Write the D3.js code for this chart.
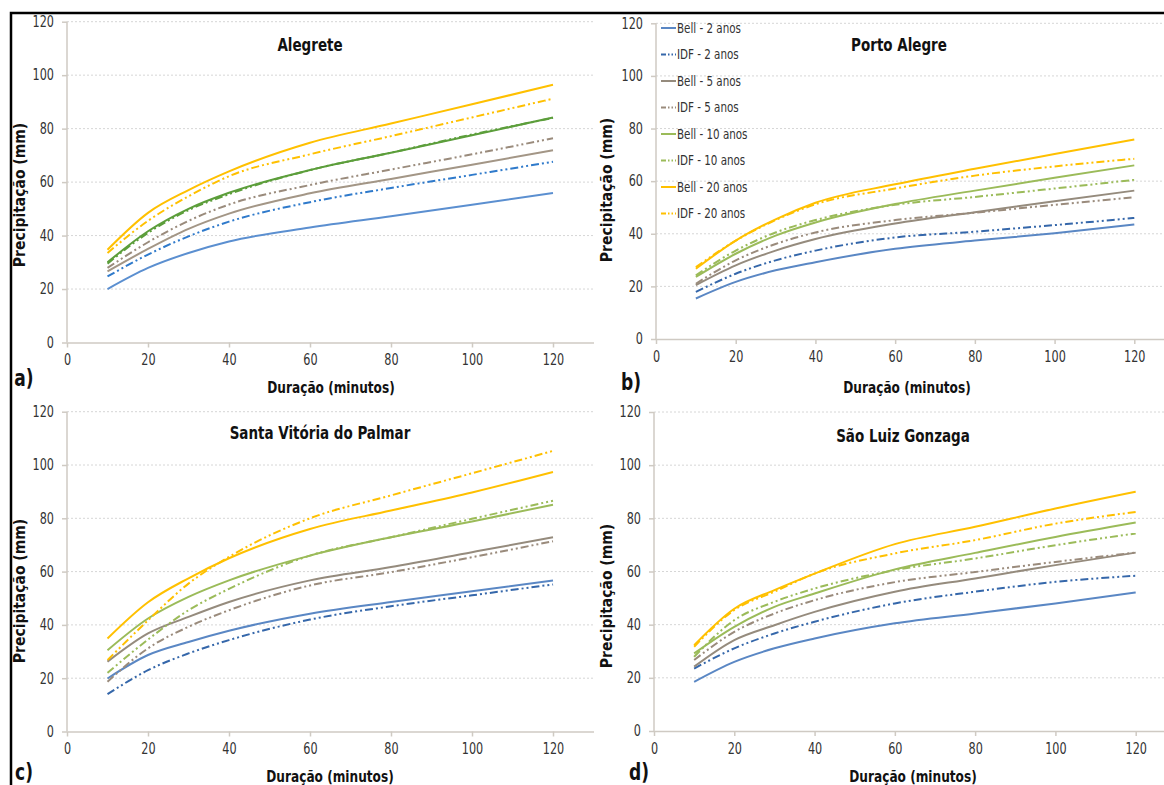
<!DOCTYPE html>
<html>
<head>
<meta charset="utf-8">
<script src="https://cdn.jsdelivr.net/npm/d3@7"></script>
<style>
  body { margin: 0; background: #fff; }
  text { font-family: "DejaVu Sans Condensed", "Liberation Sans Narrow", "Roboto", sans-serif; }
</style>
</head>
<body>
<svg id="chart" width="1164" height="785"></svg>
<script>
// data
const durations = [10, 20, 30, 40, 60, 80, 100, 120];
const seriesNames = [
  "Bell - 2 anos", "IDF - 2 anos", "Bell - 5 anos", "IDF - 5 anos",
  "Bell - 10 anos", "IDF - 10 anos", "Bell - 20 anos", "IDF - 20 anos"
];
const yTicks = [0, 20, 40, 60, 80, 100, 120];
const xTicks = [0, 20, 40, 60, 80, 100, 120];

const alegrete = [
  [20, 27.9, 33.5, 37.8, 43, 47.2, 51.5, 55.9],
  [24.7, 32.9, 39.7, 45.2, 52.5, 57.8, 62.7, 67.6],
  [26.6, 35, 42.5, 48.2, 55.8, 61.2, 66.5, 71.9],
  [27.9, 37.5, 45.5, 51.6, 58.9, 64.7, 70.4, 76.4],
  [30, 41.6, 50, 56, 64.5, 71, 77.5, 84.2],
  [29.5, 41, 49.5, 55.5, 64.5, 71, 77.8, 84],
  [34.7, 48.5, 57, 64, 74.7, 81.9, 89.1, 96.4],
  [33.5, 45.5, 54.7, 62.2, 70.4, 77.2, 84.2, 91.2]
];
const portoAlegre = [
  [15.4, 21.7, 26.1, 29.2, 34.3, 37.4, 40.2, 43.5],
  [17.9, 24.8, 29.9, 33.6, 38.6, 40.8, 43.3, 46],
  [20.5, 28, 33.6, 38, 43.9, 48.2, 52.4, 56.4],
  [21, 29.9, 36.1, 40.5, 45.2, 48, 51, 53.9],
  [23.6, 32.4, 39.3, 44.3, 51.3, 56.4, 61.3, 66],
  [24.2, 33.6, 40.5, 45.2, 51, 54, 57.2, 60.5],
  [26.7, 37.4, 45.5, 51.8, 58.8, 64.7, 70.3, 75.8],
  [27.3, 37.4, 45.2, 51.2, 57.2, 62.1, 65.6, 68.5]
];
const santaVitoria = [
  [19.9, 28.7, 33.6, 37.8, 44.2, 48.6, 52.6, 56.7],
  [14, 23, 29.3, 34.3, 42, 47, 51.1, 55.2],
  [26.2, 36.8, 43, 48.6, 56.7, 61.7, 67.3, 72.9],
  [18.7, 31.2, 39.3, 45.5, 54.8, 59.8, 65.4, 71.4],
  [30.5, 42.4, 50.5, 56.7, 66, 72.9, 78.8, 85.1],
  [22, 34.5, 45.5, 53.5, 66, 72.9, 79.8, 86.6],
  [34.9, 48.5, 57.5, 65, 76, 82.9, 89.7, 97.4],
  [26.8, 41.7, 55.5, 65.5, 80, 88.6, 96.9, 105.3]
];
const saoLuiz = [
  [18.5, 26, 31.1, 34.8, 40.5, 44.2, 48, 52.1],
  [23.5, 31.1, 36.7, 41.1, 48, 52.4, 56.1, 58.4],
  [24.2, 34.2, 39.8, 44.8, 52.4, 57.4, 62.4, 67.1],
  [26.7, 37.3, 44.2, 49.2, 56, 59.8, 63.6, 67.1],
  [29.2, 39.2, 46.7, 51.7, 60.8, 67, 73, 78.4],
  [27.9, 41.7, 48.6, 53.6, 60.5, 64.9, 69.9, 74.3],
  [32.3, 46, 53, 59.2, 70.3, 76.8, 83.7, 90],
  [31.7, 45.5, 52.4, 59.2, 66.8, 71.8, 78, 82.4]
];

// styles
const colors = ["#5a87c4", "#3567aa", "#958b7d", "#9a8b7c", "#9bbb59", "#9bbb59", "#ffc000", "#ffc000"];
const colorsA = ["#5b8fd0", "#2f7acb", "#a39686", "#9a8b7c", "#5c9e3b", "#5c9e3b", "#ffc000", "#ffc000"];
const idfDash = "8,3,2,3,2,3";
const axisColor = "#cfcac3";
const sy = 1.2; // the figure is a little stretched vertically

const panels = [
  { title: "Alegrete", label: "a)", values: alegrete, colors: colorsA,
    x0: 67, x120: 553, y0: 342.5, y120: 21.7, legend: false,
    titleX: 310, titleY: 51, xtX: 331, xtY: 393, ytX: 25, ytY: 195, labX: 14, labY: 386 },
  { title: "Porto Alegre", label: "b)", values: portoAlegre, colors: colors,
    x0: 656, x120: 1134.3, y0: 339, y120: 23.3, legend: true,
    titleX: 899, titleY: 51, xtX: 907, xtY: 393, ytX: 612, ytY: 190, labX: 621, labY: 390 },
  { title: "Santa Vitória do Palmar", label: "c)", values: santaVitoria, colors: colors,
    x0: 67, x120: 553, y0: 731.5, y120: 411.7, legend: false,
    titleX: 320, titleY: 439, xtX: 330, xtY: 782, ytX: 25, ytY: 591, labX: 14, labY: 780 },
  { title: "São Luiz Gonzaga", label: "d)", values: saoLuiz, colors: colors,
    x0: 654, x120: 1135.7, y0: 731, y120: 412, legend: false,
    titleX: 903, titleY: 442, xtX: 913, xtY: 782, ytX: 612, ytY: 596, labX: 629, labY: 780 }
];

const svg = d3.select("#chart");
svg.append("rect").attr("width", 1164).attr("height", 785).attr("fill", "#fff");

function stretchedText(g, x, y, size, str) {
  return g.append("text")
    .attr("transform", `translate(${x},${y}) scale(1,${sy})`)
    .attr("text-anchor", "middle")
    .style("font-size", `${size}px`).style("font-weight", "bold")
    .attr("fill", "#111").text(str);
}

panels.forEach((p) => {
  const xMaxPx = p.x0 + (p.x120 - p.x0) * 130 / 120;
  const x = d3.scaleLinear().domain([0, 130]).range([p.x0, xMaxPx]);
  const y = d3.scaleLinear().domain([0, 120]).range([p.y0, p.y120]);
  const g = svg.append("g");

  // gridlines
  g.selectAll(".grid")
    .data(yTicks.slice(1))
    .join("line")
    .attr("x1", p.x0).attr("x2", xMaxPx)
    .attr("y1", (d) => y(d)).attr("y2", (d) => y(d))
    .attr("stroke", "#d6d6d6").attr("stroke-width", 1)
    .attr("stroke-dasharray", "2,2");

  // axes
  const yAxisG = g.append("g")
    .attr("transform", `translate(${p.x0},0)`)
    .call(d3.axisLeft(y).tickValues(yTicks).tickSize(5).tickPadding(8));
  const xAxisG = g.append("g")
    .attr("transform", `translate(0,${p.y0})`)
    .call(d3.axisBottom(x).tickValues(xTicks).tickSize(5).tickSizeOuter(0).tickPadding(7));
  [yAxisG, xAxisG].forEach((a) => {
    a.selectAll("path, line").attr("stroke", axisColor).attr("stroke-width", 1.5);
  });
  yAxisG.select(".domain").attr("d", `M0,${p.y0}V${p.y120}`);
  yAxisG.selectAll(".tick text")
    .attr("fill", "#333").style("font-size", "12.5px")
    .attr("dy", null).attr("y", 4)
    .attr("transform", `scale(1,${sy})`);
  xAxisG.selectAll(".tick text")
    .attr("fill", "#333").style("font-size", "12.5px")
    .attr("y", 10)
    .attr("transform", `scale(1,${sy})`);

  // lines
  const line = d3.line()
    .curve(d3.curveMonotoneX)
    .x((d, i) => x(durations[i]))
    .y((d) => y(d));

  g.selectAll(".series")
    .data(p.values)
    .join("path")
    .attr("fill", "none")
    .attr("stroke", (d, i) => p.colors[i])
    .attr("stroke-width", 2)
    .attr("stroke-dasharray", (d, i) => (i % 2 ? idfDash : null))
    .attr("d", line);

  // texts
  stretchedText(g, p.titleX, p.titleY, 15, p.title);
  stretchedText(g, p.xtX, p.xtY, 13.5, "Duração (minutos)");
  g.append("text")
    .attr("transform", `translate(${p.ytX},${p.ytY}) rotate(-90)`)
    .attr("text-anchor", "middle").style("font-size", "15.5px").style("font-weight", "bold")
    .attr("fill", "#111").text("Precipitação (mm)");
  stretchedText(g, p.labX + 10, p.labY, 19, p.label);

  // legend
  if (p.legend) {
    const lg = g.append("g").attr("transform", `translate(661,28)`);
    const item = lg.selectAll("g")
      .data(seriesNames)
      .join("g")
      .attr("transform", (d, i) => `translate(0,${i * 26.5})`);
    item.append("line")
      .attr("x1", 0).attr("x2", 15)
      .attr("stroke", (d, i) => p.colors[i])
      .attr("stroke-width", 2)
      .attr("stroke-dasharray", (d, i) => (i % 2 ? "5,2,1.5,2,1.5,2" : null));
    item.append("text")
      .attr("transform", `translate(16,4.5) scale(1,${sy})`)
      .style("font-size", "11.5px").attr("fill", "#333")
      .text((d) => d);
  }
});

// outer frame
svg.append("path")
  .attr("d", "M11,1000V13H1200")
  .attr("fill", "none").attr("stroke", "#000").attr("stroke-width", 2.5);
</script>
</body>
</html>
